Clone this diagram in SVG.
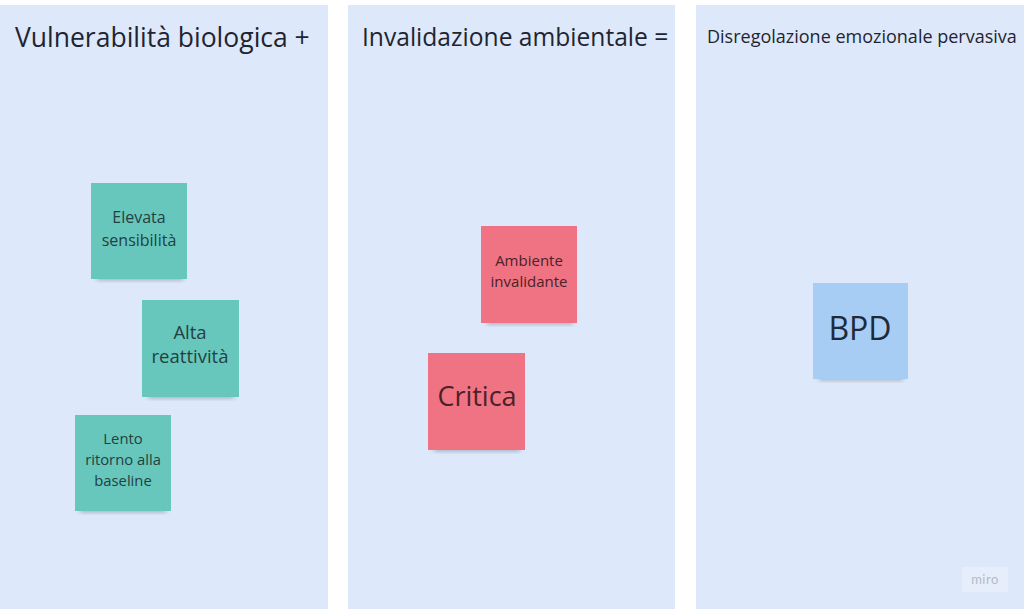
<svg xmlns="http://www.w3.org/2000/svg" width="1024" height="609" viewBox="0 0 1024 609">
<defs>
<style>
.col{fill:#dde8fb}
.t{font-family:"Open Sans","Noto Sans",sans-serif;fill:#1f2530}
.n{font-family:"Open Sans","Noto Sans",sans-serif;text-anchor:middle}
.g{fill:#67c7bd}
.r{fill:#f07383}
.b{fill:#a8cdf4}
</style>
<filter id="sh" x="-20%" y="-20%" width="140%" height="150%">
<feGaussianBlur stdDeviation="2.5"/>
</filter>
</defs>
<rect width="1024" height="609" fill="#ffffff"/>
<g id="col1"><rect class="col" x="0" y="5" width="328" height="604"/><text class="t" x="15" y="47" font-size="26.5">Vulnerabilità biologica +</text></g>
<g id="col2"><rect class="col" x="348" y="5" width="327" height="604"/><text class="t" x="362" y="46" font-size="24.6">Invalidazione ambientale =</text></g>
<g id="col3"><rect class="col" x="696" y="5" width="328" height="604"/><text class="t" x="707" y="43" font-size="18">Disregolazione emozionale pervasiva</text></g>
<g id="sticky-elevata">
<rect x="97" y="272" width="86" height="8" fill="#3a4a5a" opacity="0.4" filter="url(#sh)"/>
<rect class="g" x="91" y="183" width="96" height="96"/>
<text class="n" font-size="16" fill="#24403f"><tspan x="139" y="223">Elevata</tspan><tspan x="139" y="246">sensibilità</tspan></text>
</g>
<g id="sticky-alta">
<rect x="148" y="390" width="86" height="8" fill="#3a4a5a" opacity="0.4" filter="url(#sh)"/>
<rect class="g" x="142" y="300" width="97" height="97"/>
<text class="n" font-size="18.5" fill="#24403f"><tspan x="190" y="339">Alta</tspan><tspan x="190" y="363">reattività</tspan></text>
</g>
<g id="sticky-lento">
<rect x="80" y="504" width="86" height="8" fill="#3a4a5a" opacity="0.4" filter="url(#sh)"/>
<rect class="g" x="75" y="415" width="96" height="96"/>
<text class="n" font-size="14.8" fill="#24403f"><tspan x="123" y="444">Lento</tspan><tspan x="123" y="465">ritorno alla</tspan><tspan x="123" y="486">baseline</tspan></text>
</g>
<g id="sticky-ambiente">
<rect x="487" y="316" width="86" height="8" fill="#3a4a5a" opacity="0.4" filter="url(#sh)"/>
<rect class="r" x="481" y="226" width="96" height="97"/>
<text class="n" font-size="15" fill="#4a2228"><tspan x="529" y="266">Ambiente</tspan><tspan x="529" y="287">invalidante</tspan></text>
</g>
<g id="sticky-critica">
<rect x="434" y="443" width="86" height="8" fill="#3a4a5a" opacity="0.4" filter="url(#sh)"/>
<rect class="r" x="428" y="353" width="97" height="97"/>
<text class="n" x="477" y="406" font-size="27" fill="#4a2228">Critica</text>
</g>
<g id="sticky-bpd">
<rect x="819" y="372" width="84" height="8" fill="#3a4a5a" opacity="0.4" filter="url(#sh)"/>
<rect class="b" x="813" y="283" width="95" height="96"/>
<text class="n" x="860" y="340" font-size="32" fill="#1f2a38">BPD</text>
</g>
<g id="connectors"></g>
<g id="logo">
<rect x="962" y="567" width="46" height="25" rx="2" fill="#e6eefc"/>
<text x="985" y="584" font-family="Lato,'Open Sans',sans-serif" font-size="13" text-anchor="middle" fill="#b4bac6" letter-spacing="0.5">miro</text>
</g>
</svg>
